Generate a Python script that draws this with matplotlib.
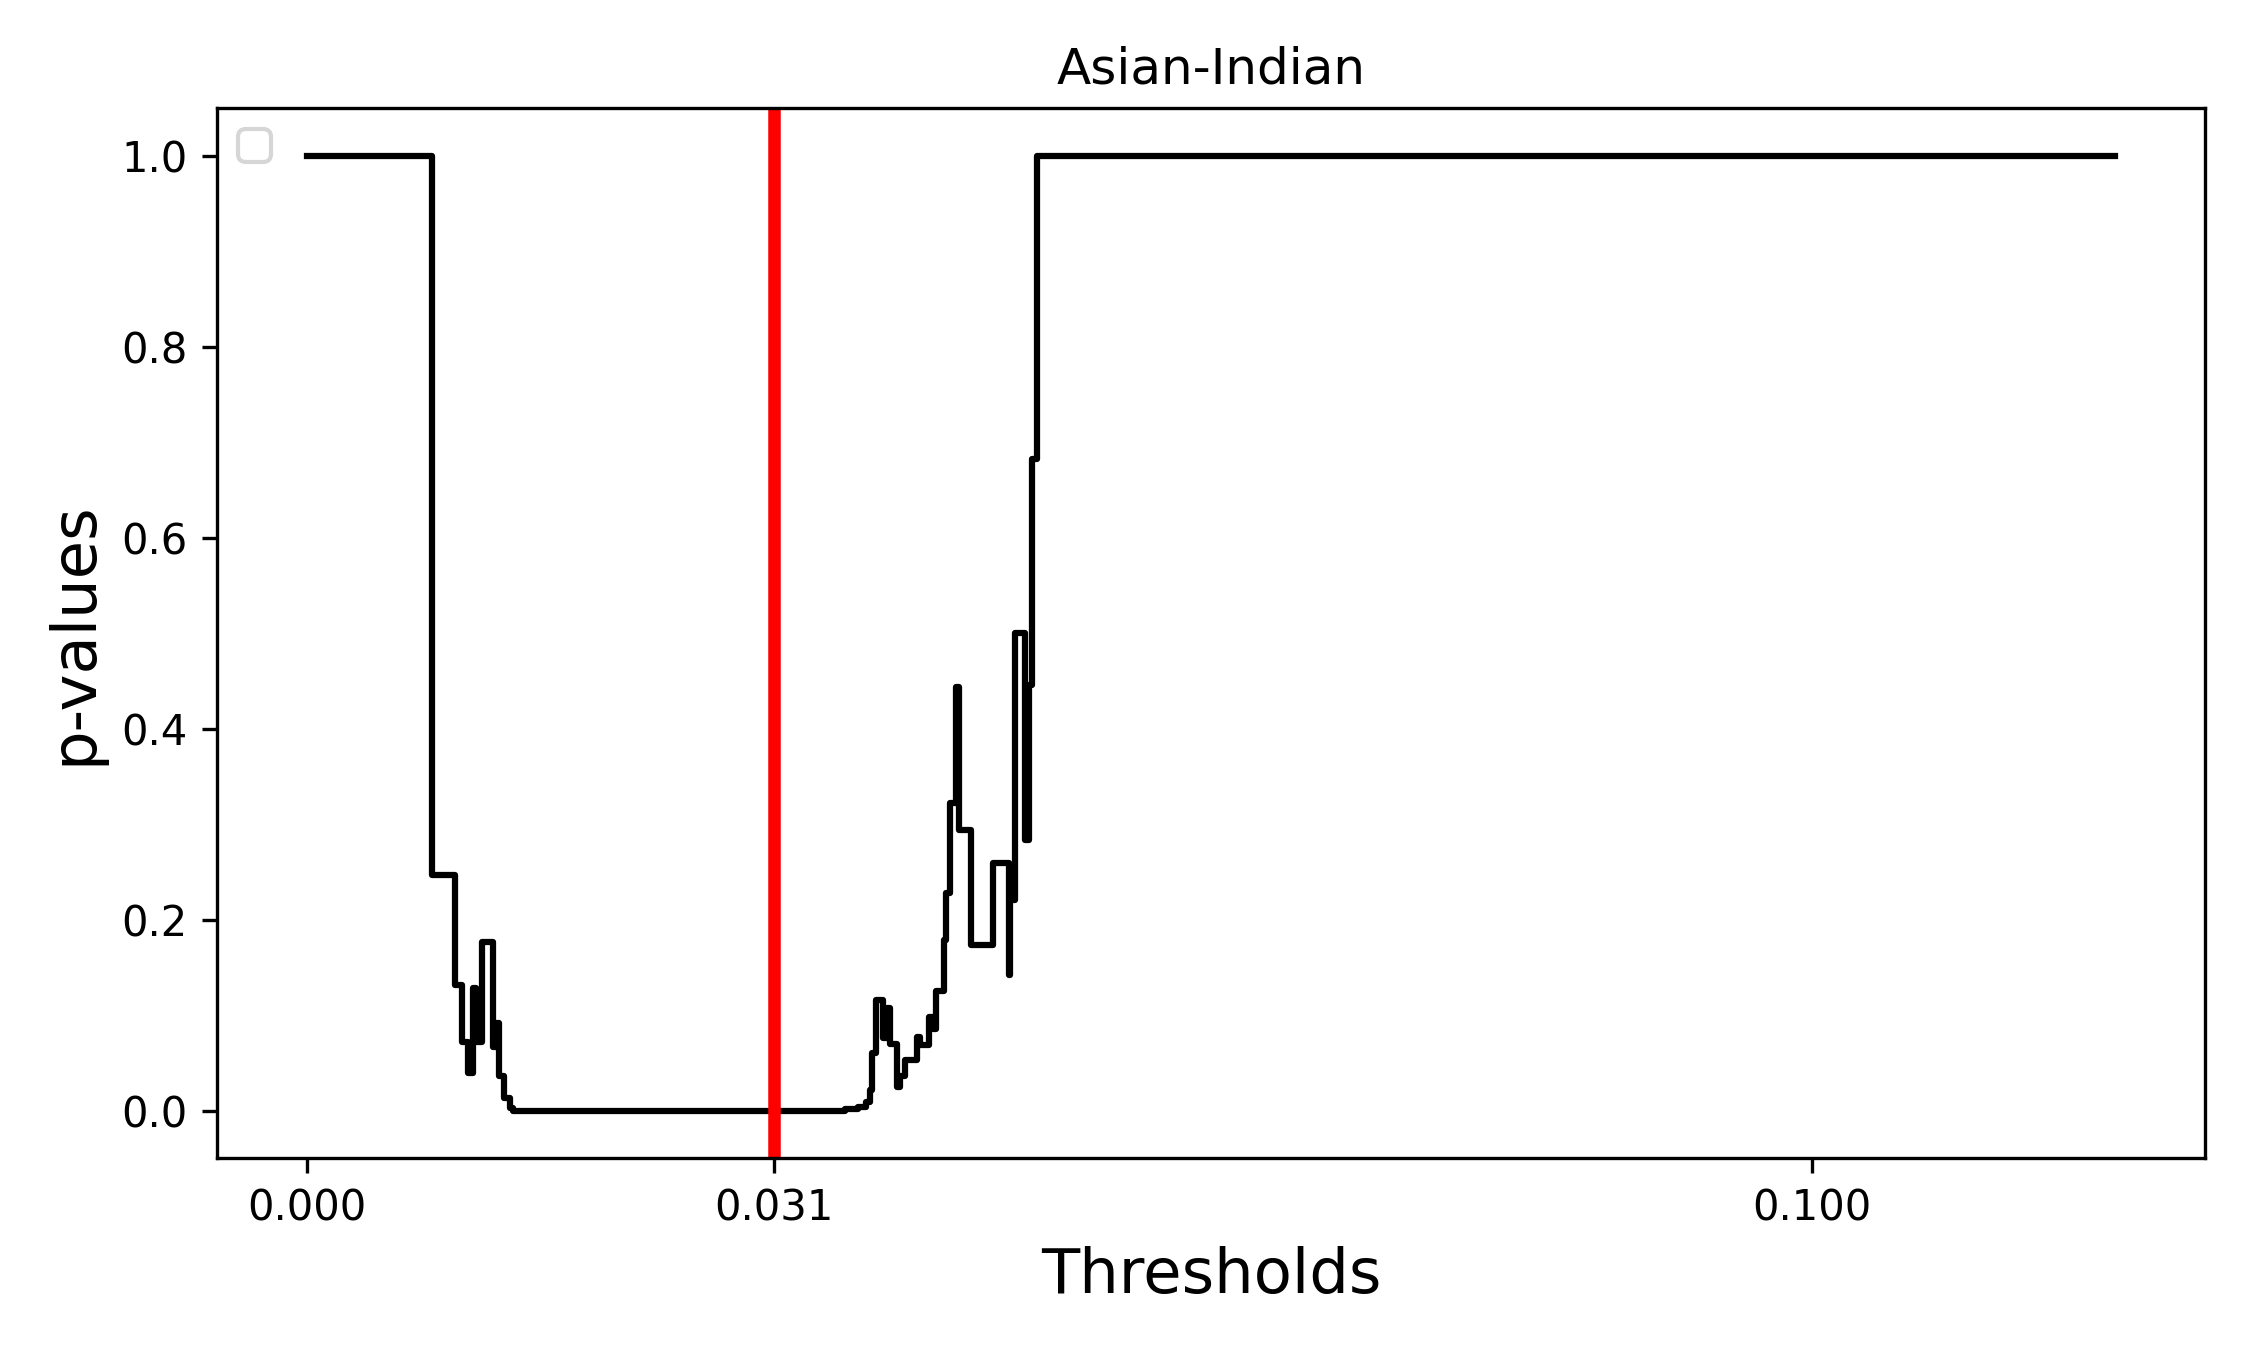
import matplotlib
matplotlib.use("Agg")
import matplotlib.pyplot as plt

title = "Asian-Indian"
best_threshold = 0.031
xtick_values = [0.0, 0.031, 0.1]
xtick_labels = ["0.000", "0.031", "0.100"]

# step start positions (threshold) and p-value held from there on
thresholds = [0.0, 0.0083, 0.0098, 0.01026, 0.0107, 0.0110, 0.01118, 0.0116,
              0.01235, 0.01255, 0.01275, 0.0131, 0.0135, 0.0137,
              0.0353, 0.0357, 0.0366, 0.0371, 0.0374, 0.03754, 0.03777,
              0.03825, 0.0385, 0.03875, 0.0392, 0.0394, 0.0397, 0.0405,
              0.0407, 0.0413, 0.0416, 0.04175, 0.0423, 0.04245, 0.0427,
              0.0431, 0.0433, 0.0441, 0.0456, 0.0466, 0.0467, 0.0470,
              0.0477, 0.04795, 0.04817, 0.0485, 0.1201]
p_values = [1.0, 0.247, 0.131, 0.072, 0.039, 0.128, 0.072, 0.177,
            0.067, 0.0915, 0.036, 0.013, 0.003, 0.0,
            0.0, 0.002, 0.004, 0.009, 0.022, 0.06, 0.116,
            0.076, 0.107, 0.07, 0.025, 0.036, 0.053, 0.0775,
            0.069, 0.098, 0.085, 0.125, 0.179, 0.228, 0.322,
            0.444, 0.294, 0.1735, 0.259, 0.142, 0.2206, 0.50,
            0.2835, 0.446, 0.682, 1.0, 1.0]

fig = plt.figure(figsize=(7.5, 4.5), dpi=300)
ax = fig.add_subplot(111)
fig.subplots_adjust(left=0.0964, right=0.98, top=0.92, bottom=0.142)

ax.plot(thresholds, p_values, color="black", lw=1.5, drawstyle="steps-post")
ax.axvline(best_threshold, color="red", lw=3)

ax.set_xticks(xtick_values)
ax.set_xticklabels(xtick_labels)
ax.tick_params(labelsize=10)
ax.set_title(title, fontsize=12)
ax.set_xlabel("Thresholds", fontsize=15)
ax.set_ylabel("p-values", fontsize=15)
ax.legend(handles=[], loc="upper left")

fig.savefig("out.png", dpi=300)
